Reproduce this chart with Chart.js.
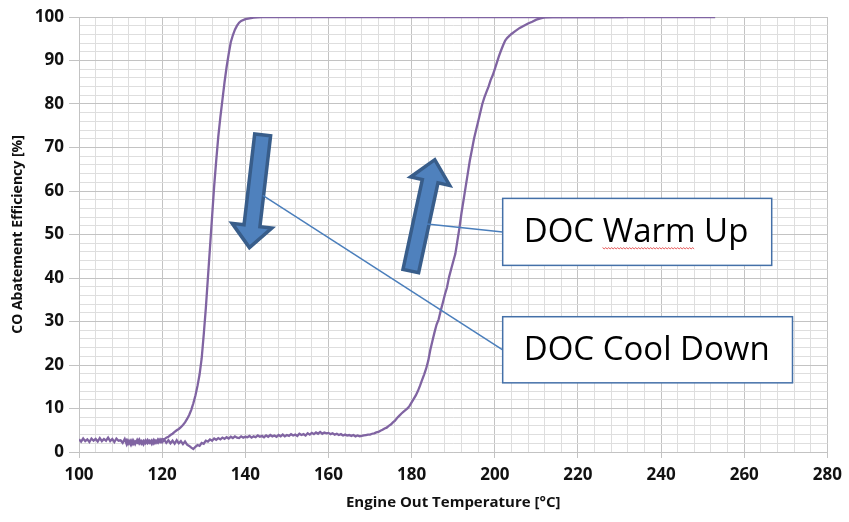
<!DOCTYPE html>
<html>
<head>
<meta charset="utf-8">
<title>CO Abatement Efficiency</title>
<script src="https://cdn.jsdelivr.net/npm/chart.js@4.4.1/dist/chart.umd.min.js"></script>
<style>
  html, body { margin: 0; padding: 0; background: #ffffff; }
  #wrap { width: 849px; height: 522px; position: relative; }
</style>
</head>
<body>
<div id="wrap"><canvas id="chart" width="849" height="522"></canvas></div>
<script>
// Engine-out temperature [°C] and CO abatement efficiency [%] — DOC cool-down sweep
const coolTemp = [
  100, 100.5, 101, 101.5, 102, 102.5, 103, 103.5, 104, 104.5, 105, 105.5, 106, 106.5, 107, 107.5,
  108, 108.5, 109, 109.5, 110, 110.5, 111, 111.5, 112, 112.5, 113, 113.5, 114, 114.5, 115, 115.5,
  116, 116.5, 117, 117.5, 118, 118.5, 119, 119.5, 120, 120.5, 121, 121.5, 122, 122.5, 123, 123.5,
  124, 124.5, 125, 125.5, 126, 126.5, 127, 127.5, 128, 128.5, 129, 129.5, 130, 130.5, 131, 131.5,
  132, 132.5, 133, 133.5, 134, 134.5, 135, 135.5, 136, 136.5, 137, 137.5, 138, 138.5, 139, 140,
  141, 142, 144, 148, 231
];
const coolEff = [
  2.9, 2.4, 3.1, 2.5, 2.9, 2.3, 3.1, 2.6, 3.0, 2.4, 3.2, 2.5, 3.0, 2.6, 3.3, 2.5,
  3.0, 2.3, 3.1, 2.6, 2.7, 2.1, 3.0, 1.7, 2.6, 1.6, 2.7, 1.8, 2.8, 1.9, 2.5, 1.7,
  2.7, 2.0, 2.6, 1.8, 2.8, 2.1, 2.9, 2.3, 3.0, 2.9, 3.3, 3.5, 3.9, 4.2, 4.6, 5.0,
  5.3, 5.7, 6.2, 6.8, 7.6, 8.5, 9.7, 11.2, 13.0, 15.2, 17.8, 21.5, 27, 33, 40, 47,
  54, 61, 67, 72.5, 77, 81, 85, 88.5, 91.5, 94.2, 95.8, 97.1, 98.0, 98.7, 99.1, 99.5,
  99.7, 99.85, 99.95, 100, 100
];

// DOC warm-up sweep
const warmTemp = [
  111, 111.5, 112, 112.5, 113, 113.5, 114, 114.5, 115, 115.5, 116, 116.5, 117, 117.5, 118, 118.5,
  119, 119.5, 120, 120.5, 121, 121.5, 122, 122.5, 123, 123.5, 124, 124.5, 125, 125.5, 126, 126.5,
  127, 127.5, 128, 128.5, 129, 129.5, 130, 130.5, 131, 131.5, 132, 132.5, 133, 133.5, 134, 134.5,
  135, 135.5, 136, 136.5, 137, 137.5, 138, 138.5, 139, 139.5, 140, 140.5, 141, 141.5, 142, 142.5,
  143, 143.5, 144, 144.5, 145, 145.5, 146, 146.5, 147, 147.5, 148, 148.5, 149, 149.5, 150, 150.5,
  151, 151.5, 152, 152.5, 153, 153.5, 154, 154.5, 155, 155.5, 156, 156.5, 157, 157.5, 158, 158.5,
  159, 159.5, 160, 160.5, 161, 161.5, 162, 162.5, 163, 163.5, 164, 164.5, 165, 165.5, 166, 166.5,
  167, 167.5, 168, 168.5, 169, 169.5, 170, 170.5, 171, 171.5, 172, 172.5, 173, 173.5, 174, 174.5,
  175, 175.5, 176, 176.5, 177, 177.5, 178, 178.5, 179, 179.5, 180, 180.5, 181, 181.5, 182, 182.5,
  183, 183.5, 184, 184.5, 185, 185.5, 186, 186.5, 187, 187.5, 188, 188.5, 189, 189.5, 190, 190.5,
  191, 191.5, 192, 192.5, 193, 193.5, 194, 194.5, 195, 195.5, 196, 196.5, 197, 197.5, 198, 198.5,
  199, 199.5, 200, 200.5, 201, 201.5, 202, 202.5, 203, 204, 205, 206, 207, 208, 209, 210,
  211, 212, 214, 253
];
const warmEff = [
  2.3, 2.8, 1.9, 2.7, 1.8, 2.5, 2.1, 2.9, 1.9, 2.6, 2.0, 2.8, 2.1, 2.7, 1.9, 2.6,
  2.1, 2.9, 2.2, 2.8, 2.1, 2.7, 2.0, 2.6, 1.9, 2.7, 2.0, 2.5, 1.8, 2.4, 1.7, 1.4,
  1.0, 0.7, 1.2, 1.6, 1.4, 2.1, 1.9, 2.6, 2.4, 2.9, 2.6, 3.1, 2.8, 3.2, 2.9, 3.3,
  3.0, 3.4, 3.1, 3.5, 3.2, 3.6, 3.3, 3.2, 3.6, 3.3, 3.5, 3.4, 3.7, 3.3, 3.6, 3.4,
  3.8, 3.5, 3.7, 3.4, 3.8, 3.5, 3.9, 3.6, 3.8, 3.5, 3.9, 3.6, 4.0, 3.6, 3.9, 3.7,
  4.1, 3.8, 4.0, 3.7, 4.2, 3.9, 4.1, 3.8, 4.3, 4.0, 4.4, 4.1, 4.5, 4.2, 4.6, 4.2,
  4.5, 4.3, 4.4, 4.1, 4.3, 4.0, 4.2, 3.9, 4.1, 3.8, 4.0, 3.8, 3.9, 3.7, 3.9, 3.6,
  3.8, 3.6, 3.7, 3.8, 3.9, 4.0, 4.0, 4.2, 4.3, 4.5, 4.6, 4.9, 5.1, 5.4, 5.6, 6.0,
  6.3, 6.8, 7.2, 7.8, 8.3, 8.8, 9.2, 9.6, 10.0, 10.6, 11.4, 12.2, 13.0, 14.0, 15.2, 16.5,
  17.8, 19.2, 21.0, 23.5, 25.5, 27.5, 29.3, 30.5, 32.5, 34.3, 36.2, 37.8, 40.2, 42.0, 43.8, 45.5,
  48.5, 51.5, 55.0, 58.0, 61.0, 64.0, 67.0, 69.5, 72.0, 74.0, 76.0, 78.0, 80.0, 81.5, 82.8, 84.0,
  85.5, 86.6, 88.0, 89.5, 91.0, 92.3, 93.5, 94.6, 95.2, 96.1, 96.8, 97.5, 98.0, 98.5, 98.9, 99.4,
  99.7, 99.9, 100, 100
];

// Axis ranges and label text
const xMin = 100, xMax = 280, xMinorStep = 4, xMajorStep = 20;
const yMin = 0, yMax = 100, yMinorStep = 2, yMajorStep = 10;
const xTitle = 'Engine Out Temperature [°C]';
const yTitle = 'CO Abatement Efficiency [%]';
const warmLabel = 'DOC Warm Up';
const coolLabel = 'DOC Cool Down';

const toPoints = (xs, ys) => xs.map((v, i) => ({ x: v, y: ys[i] }));

const CURVE = '#8064a2';
const GRID_MAJOR = '#c3c3c3';
const GRID_MINOR = '#dedede';
const ARROW_FILL = '#4f81bd';
const ARROW_EDGE = '#385d8a';
const LEADER = '#4a7ebb';
const BOX_EDGE = '#4470a8';

const isMajor = (v, step) => Math.abs(v / step - Math.round(v / step)) < 1e-6;

// Shapes placed in data units so they follow the axes
const arrows = [
  { from: [144.17, 72.9], to: [140.99, 47.0] },   // cool-down, pointing down
  { from: [179.8, 41.6], to: [185.57, 67.2] }     // warm-up, pointing up
];
const callouts = [
  { text: warmLabel, anchor: [183.7, 52.4], box: [201.9, 58.3, 266.6, 42.9], squiggle: 'Warm' },
  { text: coolLabel, anchor: [144.2, 59.0], box: [201.9, 31.1, 271.6, 15.9] }
];

const calloutPlugin = {
  id: 'calloutPlugin',
  afterDatasetsDraw(chart) {
    const { ctx, scales: { x, y } } = chart;
    const P = (p) => [x.getPixelForValue(p[0]), y.getPixelForValue(p[1])];
    ctx.save();

    // block arrows
    arrows.forEach(a => {
      const [x0, y0] = P(a.from);
      const [x1, y1] = P(a.to);
      const len = Math.hypot(x1 - x0, y1 - y0);
      const ux = (x1 - x0) / len, uy = (y1 - y0) / len;
      const nx = -uy, ny = ux;
      const w = 8, hw = 20, hl = 22;
      const bx = x1 - ux * hl, by = y1 - uy * hl;
      ctx.beginPath();
      ctx.moveTo(x0 + nx * w, y0 + ny * w);
      ctx.lineTo(bx + nx * w, by + ny * w);
      ctx.lineTo(bx + nx * hw, by + ny * hw);
      ctx.lineTo(x1, y1);
      ctx.lineTo(bx - nx * hw, by - ny * hw);
      ctx.lineTo(bx - nx * w, by - ny * w);
      ctx.lineTo(x0 - nx * w, y0 - ny * w);
      ctx.closePath();
      ctx.fillStyle = ARROW_FILL;
      ctx.fill();
      ctx.lineWidth = 3.5;
      ctx.lineJoin = 'miter';
      ctx.strokeStyle = ARROW_EDGE;
      ctx.stroke();
    });

    // leader lines and text boxes
    callouts.forEach(c => {
      const [ax, ay] = P(c.anchor);
      const [l, t] = P([c.box[0], c.box[1]]);
      const [r, b] = P([c.box[2], c.box[3]]);
      ctx.beginPath();
      ctx.moveTo(ax, ay);
      ctx.lineTo(l, (t + b) / 2);
      ctx.lineWidth = 1.5;
      ctx.strokeStyle = LEADER;
      ctx.stroke();

      ctx.fillStyle = '#ffffff';
      ctx.fillRect(l, t, r - l, b - t);
      ctx.lineWidth = 1.5;
      ctx.strokeStyle = BOX_EDGE;
      ctx.strokeRect(l, t, r - l, b - t);

      ctx.font = '33px "Open Sans", sans-serif';
      ctx.fillStyle = '#000000';
      ctx.textAlign = 'left';
      ctx.textBaseline = 'middle';
      const tx = l + 21, ty = (t + b) / 2 + 1;
      ctx.fillText(c.text, tx, ty);

      if (c.squiggle) {
        const pre = c.text.slice(0, c.text.indexOf(c.squiggle));
        const sx = tx + ctx.measureText(pre).width;
        const ex = sx + ctx.measureText(c.squiggle).width;
        const sy = ty + 15;
        ctx.beginPath();
        ctx.moveTo(sx, sy);
        for (let px = sx, k = 0; px <= ex; px += 1.5, k++) {
          ctx.lineTo(px, sy + (k % 2 ? 1 : -0.2));
        }
        ctx.lineWidth = 0.8;
        ctx.strokeStyle = '#e03030';
        ctx.stroke();
      }
    });
    ctx.restore();
  }
};

new Chart(document.getElementById('chart'), {
  type: 'line',
  data: {
    datasets: [
      { label: coolLabel, data: toPoints(coolTemp, coolEff) },
      { label: warmLabel, data: toPoints(warmTemp, warmEff) }
    ]
  },
  options: {
    responsive: false,
    animation: false,
    devicePixelRatio: 1,
    layout: { padding: { left: 0, right: 19, top: 17, bottom: 0 } },
    elements: {
      line: { borderColor: CURVE, borderWidth: 2.3, tension: 0, fill: false },
      point: { radius: 0, hoverRadius: 0 }
    },
    plugins: { legend: { display: false }, tooltip: { enabled: false } },
    scales: {
      x: {
        type: 'linear',
        min: xMin, max: xMax,
        afterFit(s) { s.height = 70; },
        ticks: {
          stepSize: xMinorStep, autoSkip: false, maxRotation: 0, maxTicksLimit: 1000,
          padding: 7, color: '#111111',
          font: { family: '"Open Sans", sans-serif', size: 17, weight: 'bold' },
          callback: (v) => isMajor(v, xMajorStep) ? String(v) : ''
        },
        grid: {
          color: (c) => isMajor(c.tick.value, xMajorStep) ? GRID_MAJOR : GRID_MINOR,
          tickColor: (c) => isMajor(c.tick.value, xMajorStep) ? GRID_MAJOR : 'rgba(0,0,0,0)',
          tickLength: 6, lineWidth: 1
        },
        border: { color: GRID_MAJOR },
        title: {
          display: true, text: xTitle, color: '#111111',
          font: { family: '"Open Sans", sans-serif', size: 15, weight: 'bold' },
          padding: { top: 0, bottom: 10 }
        }
      },
      y: {
        type: 'linear',
        min: yMin, max: yMax,
        afterFit(s) { s.width = 79; },
        ticks: {
          stepSize: yMinorStep, autoSkip: false, maxTicksLimit: 1000,
          padding: 5, color: '#111111',
          font: { family: '"Open Sans", sans-serif', size: 17, weight: 'bold' },
          callback: (v) => isMajor(v, yMajorStep) ? String(v) : ''
        },
        grid: {
          color: (c) => isMajor(c.tick.value, yMajorStep) ? GRID_MAJOR : GRID_MINOR,
          tickColor: (c) => isMajor(c.tick.value, yMajorStep) ? GRID_MAJOR : 'rgba(0,0,0,0)',
          tickLength: 10, lineWidth: 1
        },
        border: { color: GRID_MAJOR },
        title: {
          display: true, text: yTitle, color: '#111111',
          font: { family: '"Open Sans", sans-serif', size: 14, weight: 'bold' },
          padding: { top: 10, bottom: 0 }
        }
      }
    }
  },
  plugins: [calloutPlugin]
});
</script>
</body>
</html>
